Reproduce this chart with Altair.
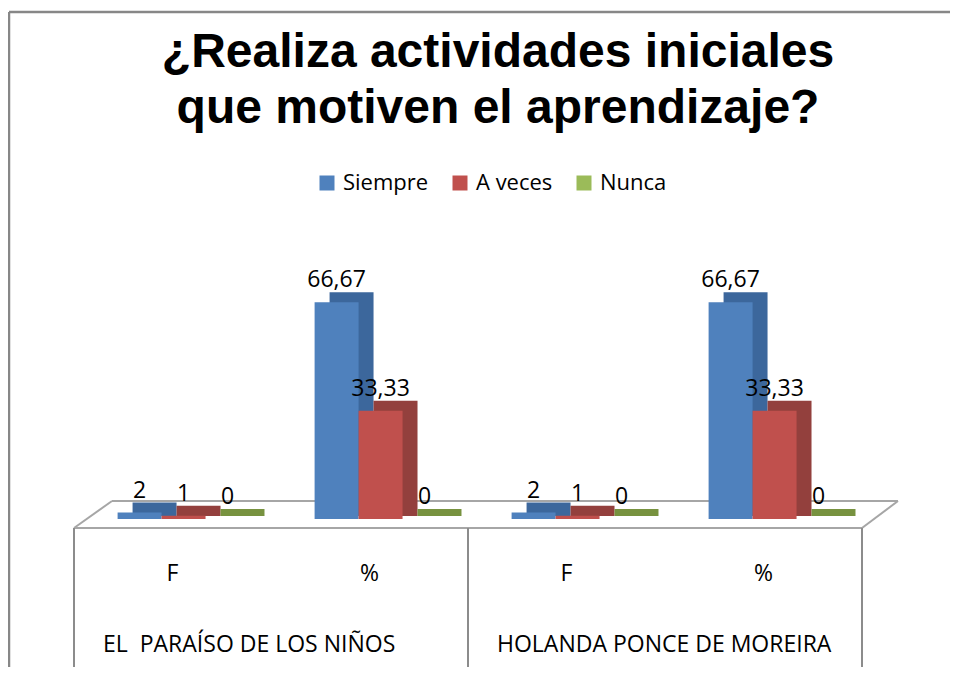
import altair as alt
import pandas as pd

# ---- data ----
series = ["Siempre", "A veces", "Nunca"]
groups = ["F", "%", "F", "%"]
schools = ["EL \u00a0PARAÍSO DE LOS NIÑOS", "HOLANDA PONCE DE MOREIRA"]
school_first_group = [0, 2]
siempre = [2, 66.67, 2, 66.67]
a_veces = [1, 33.33, 1, 33.33]
nunca = [0, 0, 0, 0]
title_lines = ["¿Realiza actividades iniciales", "que motiven el aprendizaje?"]

front_colors = ["#4f81bd", "#c0504d", "#9bbb59"]
dark_colors = ["#3c679c", "#93403d", "#77923f"]


def fmt(v):
    s = f"{v:.2f}".rstrip("0").rstrip(".")
    return s.replace(".", ",")


keys = [f"{i}|{g}" for i, g in enumerate(groups)]
rows = []
for i, k in enumerate(keys):
    for s, vals in zip(series, [siempre, a_veces, nunca]):
        rows.append({"key": k, "serie": s, "valor": vals[i], "label": fmt(vals[i])})
df = pd.DataFrame(rows)
df_school = pd.DataFrame({"key": [keys[i] for i in school_first_group], "school": schools})

FONT = "Open Sans"

X = alt.X("key:N", sort=keys, scale=alt.Scale(paddingInner=0, paddingOuter=0),
          axis=alt.Axis(title=None, labelExpr="split(datum.label,'|')[1]", labelAngle=0,
                        domain=False, ticks=False, grid=False, labelFontSize=23,
                        labelFont=FONT, labelColor="black", labelBaseline="middle",
                        labelPadding=54))
Y = alt.Y("valor:Q", scale=alt.Scale(domain=[0, 80]), axis=None)


def xoff(align):
    return alt.XOffset("serie:N", scale=alt.Scale(type="band", domain=series, paddingInner=0,
                                                  paddingOuter=0.74, align=align))


base = alt.Chart(df)

back = base.mark_bar(yOffset=-10, y2Offset=-3).encode(
    x=X, y=Y, y2=alt.Y2(datum=0), xOffset=xoff(0.9),
    color=alt.Color("serie:N", scale=alt.Scale(domain=series, range=dark_colors), legend=None),
)

front = base.mark_bar().encode(
    x=X, y=Y, xOffset=xoff(0.67),
    color=alt.Color("serie:N", scale=alt.Scale(domain=series, range=front_colors),
                    legend=alt.Legend(title=None, orient="none", legendX=242, legendY=-87,
                                      direction="horizontal", symbolType="square",
                                      symbolSize=225, symbolStrokeWidth=0,
                                      labelFontSize=22, labelFont=FONT, labelColor="black",
                                      columnPadding=20, labelOffset=5)),
)

labels = base.mark_text(fontSize=23, font=FONT, dy=-15, baseline="alphabetic", color="black").encode(
    x=X, y=Y, xOffset=xoff(0.67), text="label:N"
)

school_text = alt.Chart(df_school).mark_text(
    fontSize=23, font=FONT, align="left", dx=29, baseline="middle", color="black"
).encode(x=alt.X("key:N", sort=keys, bandPosition=0), y=alt.value(386), text="school:N")


def seg(x1, y1, x2, y2, color="#999999", w=2):
    return alt.Chart(alt.Data(values=[{"a": 1}])).mark_rule(color=color, strokeWidth=w).encode(
        x=alt.value(x1), x2=alt.value(x2), y=alt.value(y1), y2=alt.value(y2)
    )


decor_back = [
    seg(-65, -247, 900, -247, "#878787", 2.5),
    seg(-65, -247, -65, 430, "#878787", 2.5),
    seg(0, 269, 788, 269, "#a6a6a6"),
    seg(38, 242, 824, 242, "#a6a6a6"),
    seg(0, 269, 38, 242, "#a6a6a6"),
    seg(788, 269, 824, 242, "#a6a6a6"),
]
decor_table = [
    seg(0, 269, 0, 430, "#8c8c8c"),
    seg(394, 269, 394, 430, "#8c8c8c"),
    seg(788, 269, 788, 430, "#8c8c8c"),
]

chart = alt.layer(
    *decor_back, back, front, labels, *decor_table, school_text
).resolve_scale(color="independent", xOffset="independent").properties(
    width=788, height=260,
    background="white",
    autosize=alt.AutoSizeParams(type="none"),
    padding={"left": 66, "top": 251, "right": 88, "bottom": 148},
    title=alt.TitleParams(text=title_lines, font="Liberation Sans", fontSize=48,
                          fontWeight="bold", anchor="middle", dx=30, offset=40, dy=162,
                          lineHeight=56, color="black"),
).configure_view(strokeWidth=0, stroke=None)

chart.save("out.html", embed_options={"renderer": "svg", "actions": False})
